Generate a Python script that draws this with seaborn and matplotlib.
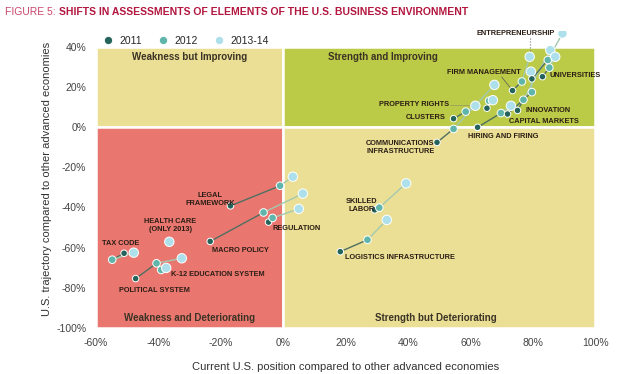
import matplotlib
matplotlib.use('Agg')
import matplotlib.pyplot as plt
import matplotlib.patches as mpatches
import numpy as np
import pandas as pd
import seaborn as sns

# data (percent); NaN = no point that year
elements = ['TAX CODE', 'HEALTH CARE', 'POLITICAL SYSTEM', 'K-12 EDUCATION SYSTEM',
            'LEGAL FRAMEWORK', 'MACRO POLICY', 'REGULATION', 'SKILLED LABOR',
            'LOGISTICS INFRASTRUCTURE', 'COMMUNICATIONS INFRASTRUCTURE', 'CLUSTERS',
            'PROPERTY RIGHTS', 'HIRING AND FIRING', 'CAPITAL MARKETS', 'INNOVATION',
            'FIRM MANAGEMENT', 'ENTREPRENEURSHIP', 'UNIVERSITIES']
x2011 = [-51.0, np.nan, -47.3, np.nan, -16.9, -23.4, -4.7, 29.3, 18.3, 49.3, 54.6,
         65.3, 62.3, 71.9, 75.1, 73.5, 79.7, 83.1]
y2011 = [-62.8, np.nan, -75.4, np.nan, -39.2, -56.9, -47.3, -41.2, -62.0, -7.6, 4.2,
         9.4, -0.1, 6.5, 8.3, 18.2, 24.0, 25.1]
x2012 = [-54.8, np.nan, -40.6, -39.1, -1.0, -6.3, -3.4, 30.8, 27.0, 54.6, 58.5,
         66.0, 69.8, 79.7, 77.0, 76.5, 84.8, 85.3]
y2012 = [-66.0, np.nan, -67.8, -71.1, -29.2, -42.5, -45.2, -40.1, -56.1, -0.9, 7.7,
         13.1, 7.0, 17.4, 13.6, 22.7, 33.4, 29.6]
x2013 = [-47.9, -36.5, -32.5, -37.5, 3.1, 6.3, 5.0, 39.4, 33.2, 67.7, 61.6,
         67.2, 73.0, 79.4, 85.6, 79.0, 89.5, 87.2]
y2013 = [-62.5, -57.1, -65.3, -70.1, -24.7, -33.1, -40.7, -28.0, -46.2, 21.0, 10.6,
         13.4, 10.6, 27.6, 38.3, 35.0, 46.6, 35.0]
years = ['2011', '2012', '2013-14']

rows = []
for i, el in enumerate(elements):
    for yr, xs, ys in [('2011', x2011, y2011), ('2012', x2012, y2012), ('2013-14', x2013, y2013)]:
        rows.append({'element': el, 'year': yr, 'x': xs[i], 'y': ys[i]})
df = pd.DataFrame(rows).dropna()

sns.set_style('white')
plt.rcParams['font.family'] = ['Liberation Sans', 'DejaVu Sans']

fig = plt.figure(figsize=(6.4, 3.74), dpi=100)
ax = fig.add_axes([0.15, 0.123, 0.78, 0.795])

# quadrants
yellow = '#ebdf95'
quads = [((-60, 0), 60, 40, yellow), ((0, 0), 100, 40, '#bccb47'),
         ((-60, -100), 60, 100, '#e9776f'), ((0, -100), 100, 100, yellow)]
for xy, w, h, c in quads:
    ax.add_patch(mpatches.Rectangle(xy, w, h, facecolor=c, edgecolor='white', lw=1.8, zorder=0))

qfont = dict(fontsize=7, fontweight='bold', color='#3b3325', ha='center', va='center')
ax.text(-30, 35, 'Weakness but Improving', **qfont)
ax.text(32, 35, 'Strength and Improving', **qfont)
ax.text(-30, -95, 'Weakness and Deteriorating', **qfont)
ax.text(49, -95, 'Strength but Deteriorating', **qfont)

# trajectories
for i in range(len(elements)):
    ax.plot([x2011[i], x2012[i]], [y2011[i], y2012[i]], color='#4f6f62', lw=1.0, zorder=2)
    ax.plot([x2012[i], x2013[i]], [y2012[i], y2013[i]], color='#a3c9b0', lw=1.0, zorder=2)

pal = {'2011': '#24645b', '2012': '#5fb5aa', '2013-14': '#ade0ea'}
sns.scatterplot(data=df, x='x', y='y', hue='year', hue_order=years, palette=pal,
                size='year', sizes={'2011': 22, '2012': 30, '2013-14': 46}, size_order=years,
                edgecolor='white', linewidth=0.7, ax=ax, zorder=3, legend='full')

# labels
lab = dict(fontsize=5.3, color='#2a1d15', fontweight='bold')
notes = [
    ('TAX CODE', -52.0, -57.7, 'center'),
    ('HEALTH CARE\n(ONLY 2013)', -36.2, -48.8, 'center'),
    ('K-12 EDUCATION SYSTEM', -36.0, -73.3, 'left'),
    ('POLITICAL SYSTEM', -41.3, -81.5, 'center'),
    ('LEGAL\nFRAMEWORK', -23.5, -36.0, 'center'),
    ('MACRO POLICY', -22.8, -61.2, 'left'),
    ('REGULATION', -3.5, -50.3, 'left'),
    ('SKILLED\nLABOR', 25.0, -39.0, 'center'),
    ('LOGISTICS INFRASTRUCTURE', 19.9, -65.1, 'left'),
    ('COMMUNICATIONS\nINFRASTRUCTURE', 37.5, -10.2, 'center'),
    ('CLUSTERS', 52.2, 4.7, 'right'),
    ('PROPERTY RIGHTS', 53.3, 11.1, 'right'),
    ('HIRING AND FIRING', 59.3, -4.7, 'left'),
    ('CAPITAL MARKETS', 72.4, 2.7, 'left'),
    ('INNOVATION', 77.6, 8.1, 'left'),
    ('FIRM MANAGEMENT', 64.4, 27.4, 'center'),
    ('ENTREPRENEURSHIP', 87.0, 46.7, 'right'),
    ('UNIVERSITIES', 85.3, 25.5, 'left'),
]
for t, tx, ty, ha in notes:
    ax.text(tx, ty, t, ha=ha, va='center', linespacing=1.2, zorder=4, **lab)
ax.plot([79.2, 79.2], [44.5, 36.5], ls=':', color='#777777', lw=0.8, zorder=2)
ax.plot([70.0, 73.3], [25.0, 18.6], color='#555555', lw=0.5, zorder=2)
ax.plot([53.6, 61.0], [11.1, 11.1], color='#8a8a6a', lw=0.4, zorder=2)

ax.set_xlim(-60, 100)
ax.set_ylim(-100, 48)
ax.set_xticks(range(-60, 101, 20))
ax.set_yticks(range(-100, 41, 20))
ax.set_xticklabels([f'{v}%' for v in range(-60, 101, 20)])
ax.set_yticklabels([f'{v}%' for v in range(-100, 41, 20)])
ax.tick_params(length=0, labelsize=7.5, colors='#444444', pad=7)
sns.despine(ax=ax, left=True, bottom=True)
ax.set_xlabel('Current U.S. position compared to other advanced economies', fontsize=8,
              color='#333333', labelpad=10)
ax.set_ylabel('U.S. trajectory compared to other advanced economies', fontsize=8,
              color='#333333', labelpad=3)

h, l = ax.get_legend_handles_labels()
leg = ax.legend(h, l, loc='center left', bbox_to_anchor=(-0.005, 0.965), ncol=3, frameon=False,
                handletextpad=0.1, columnspacing=1.0, borderaxespad=0,
                prop={'size': 7.5})
for hd in leg.legend_handles:
    hd.set_markersize(6)

# title
t1 = fig.text(0.008, 0.967, 'FIGURE 5: ', fontsize=7.5, color='#c9476b', va='center')
fig.canvas.draw()
bb = t1.get_window_extent()
fig.text(bb.x1 / fig.bbox.width, 0.967, 'SHIFTS IN ASSESSMENTS OF ELEMENTS OF THE U.S. BUSINESS ENVIRONMENT',
         fontsize=7.5, fontweight='bold', color='#b3173f', va='center')

fig.savefig('out.png', dpi=100)
